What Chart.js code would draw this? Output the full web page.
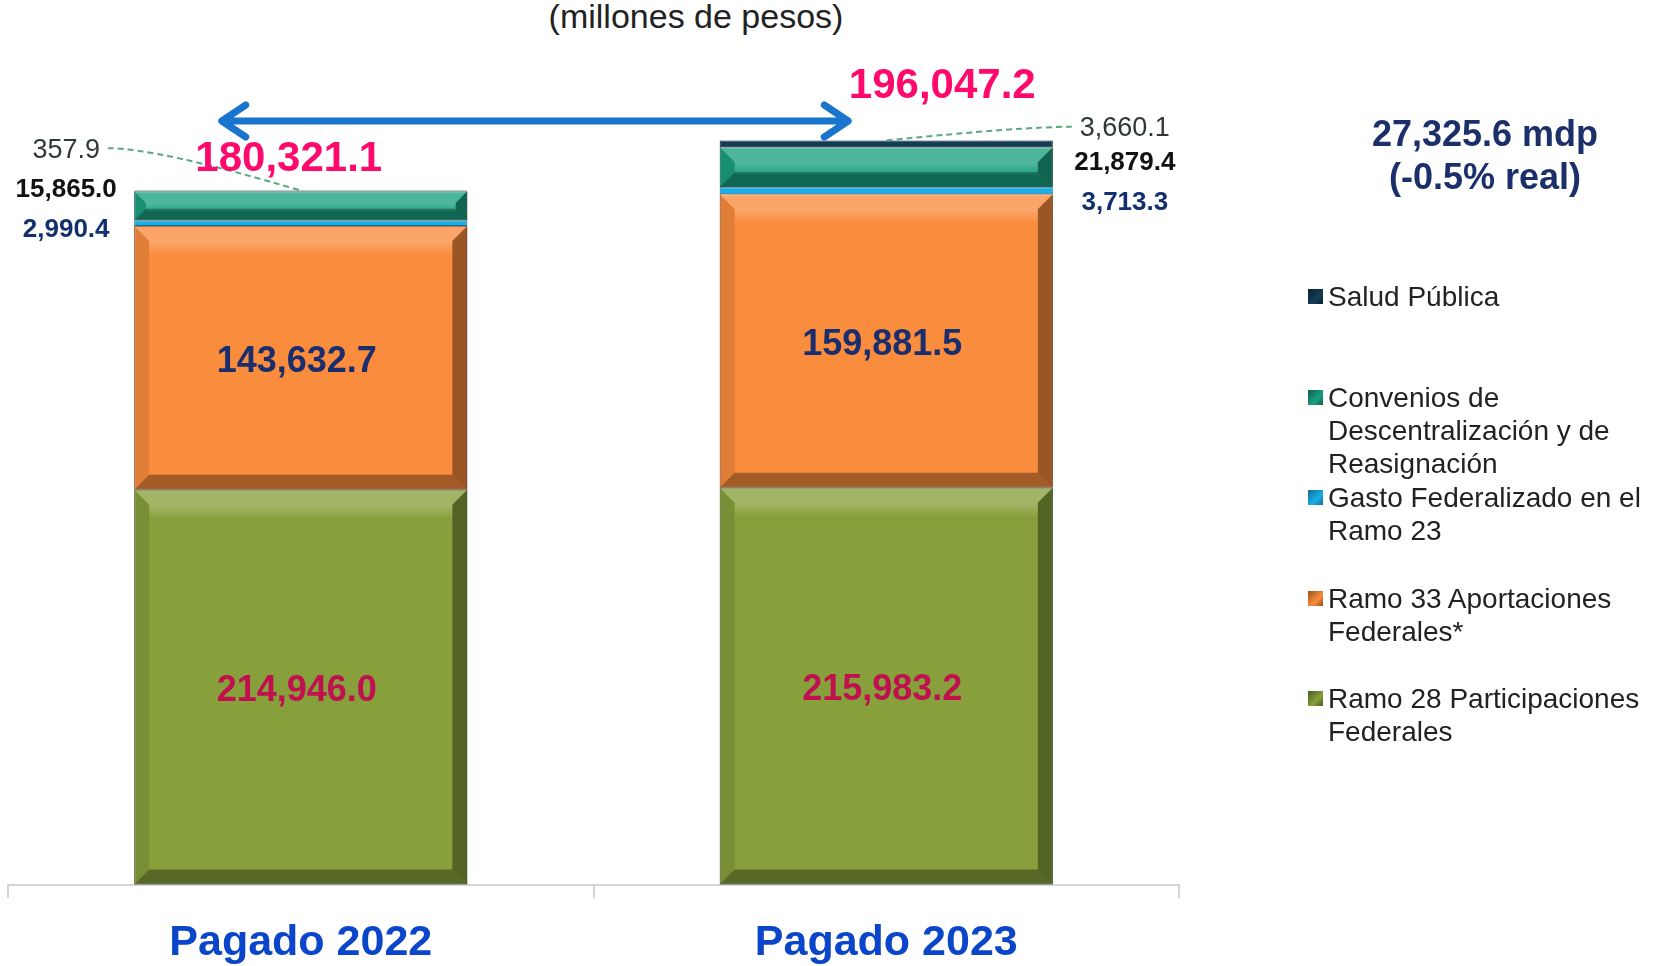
<!DOCTYPE html>
<html lang="es">
<head>
<meta charset="UTF-8">
<title>Gasto federalizado pagado</title>
<script src="https://cdn.jsdelivr.net/npm/chart.js"></script>
<style>
  body { margin: 0; width: 1662px; height: 966px; overflow: hidden; background: #fff;
         font-family: "Liberation Sans", Arial, sans-serif; position: relative; }
  #chart { position: absolute; left: 0; top: 0; }
  #title { position: absolute; left: 0; top: -3px; width: 1392px; text-align: center;
           font-size: 34px; color: #222; }
  #note { position: absolute; left: 1335px; top: 112px; width: 300px; text-align: center;
          font-size: 36px; font-weight: bold; color: #1b2f6b; line-height: 43px; }
  #legend { position: absolute; left: 1308px; top: 280px; }
  .item { position: relative; height: 100.5px; }
  .item .box { position: absolute; left: 0; top: 9px; width: 15px; height: 15px; }
  .item .txt { position: absolute; left: 20px; top: 0; width: 340px; font-size: 28px;
               line-height: 33px; color: #222; }
</style>
</head>
<body>
<div id="title">(millones de pesos)</div>
<canvas id="chart" width="1662" height="966"></canvas>
<div id="note">27,325.6 mdp<br>(-0.5% real)</div>
<div id="legend"></div>

<script>
// Data (stack order: bottom to top)
const categories = ['Pagado 2022', 'Pagado 2023'];
const seriesNames = [
  'Ramo 28 Participaciones Federales',
  'Ramo 33 Aportaciones Federales*',
  'Gasto Federalizado en el Ramo 23',
  'Convenios de Descentralización y de Reasignación',
  'Salud Pública'
];
const ramo28 = [214946.0, 215983.2];
const ramo33 = [143632.7, 159881.5];
const ramo23 = [2990.4, 3713.3];
const convenios = [15865.0, 21879.4];
const saludPublica = [357.9, 3660.1];
const seriesValues = [ramo28, ramo33, ramo23, convenios, saludPublica];
const totalLabels = ['180,321.1', '196,047.2'];

const seriesColors = ['#87a03b', '#fa8c3e', '#19aee6', '#1aa07e', '#133d55'];
const borderColors = ['#4b5a1e', '#9a4f18', '#0d6f96', '#0e5e49', '#0a2230'];

const fmt = v => v.toLocaleString('en-US', { minimumFractionDigits: 1, maximumFractionDigits: 1 });
const FONT = '"Liberation Sans", Arial, sans-serif';

// legend (top to bottom = reverse of stack order)
const legend = document.getElementById('legend');
for (let i = seriesNames.length - 1; i >= 0; i--) {
  const item = document.createElement('div');
  item.className = 'item';
  item.innerHTML = '<div class="box" style="background:linear-gradient(135deg,' + borderColors[i] +
    ' 0%,' + seriesColors[i] + ' 60%,' + borderColors[i] + ' 100%)"></div><div class="txt">' +
    seriesNames[i] + '</div>';
  legend.appendChild(item);
}

function poly(ctx, pts, fill) {
  ctx.beginPath();
  ctx.moveTo(pts[0][0], pts[0][1]);
  for (let i = 1; i < pts.length; i++) ctx.lineTo(pts[i][0], pts[i][1]);
  ctx.closePath();
  ctx.fillStyle = fill;
  ctx.fill();
}

// bevel look on each bar segment
const bevelPlugin = {
  id: 'bevel',
  afterDatasetDraw(chart, args) {
    const ctx = chart.ctx;
    ctx.save();
    args.meta.data.forEach(bar => {
      const l = bar.x - bar.width / 2, r = bar.x + bar.width / 2;
      const t = Math.min(bar.y, bar.base), b = Math.max(bar.y, bar.base);
      const h = b - t;
      if (h < 8) return;
      const d = Math.min(15, h / 2.5);
      poly(ctx, [[l, t], [r, t], [r - d, t + d], [l + d, t + d]], 'rgba(255,255,255,0.22)');
      poly(ctx, [[l, b], [r, b], [r - d, b - d], [l + d, b - d]], 'rgba(0,0,0,0.35)');
      poly(ctx, [[l, t], [l + d, t + d], [l + d, b - d], [l, b]], 'rgba(0,0,0,0.10)');
      poly(ctx, [[r, t], [r - d, t + d], [r - d, b - d], [r, b]], 'rgba(0,0,0,0.38)');
      // soft highlight band under top face
      const g = ctx.createLinearGradient(0, t + d, 0, t + d + Math.min(14, h / 3));
      g.addColorStop(0, 'rgba(255,255,255,0.25)');
      g.addColorStop(1, 'rgba(255,255,255,0)');
      ctx.fillStyle = g;
      ctx.fillRect(l + d, t + d, r - l - 2 * d, Math.min(14, h / 3));
    });
    ctx.restore();
  }
};

// value labels, totals, leader lines and arrow
const labelPlugin = {
  id: 'labels',
  afterDatasetsDraw(chart) {
    const ctx = chart.ctx;
    const metas = seriesValues.map((_, i) => chart.getDatasetMeta(i));
    ctx.save();
    ctx.textBaseline = 'middle';

    categories.forEach((cat, j) => {
      const side = j === 0 ? -1 : 1;
      // inner labels
      const innerColors = ['#c0104f', '#1a2e6e'];
      [0, 1].forEach(k => {
        const b = metas[k].data[j];
        ctx.font = 'bold 36px ' + FONT;
        ctx.fillStyle = innerColors[k];
        ctx.textAlign = 'center';
        ctx.fillText(fmt(seriesValues[k][j]), b.x - 4, (b.y + b.base) / 2 + 4);
      });

      // outside labels
      const g = metas[2].data[j];
      const lx = side < 0 ? g.x - g.width / 2 - 68 : g.x + g.width / 2 + 72;
      const gy = (g.y + g.base) / 2 + (j === 0 ? 7 : 12);
      ctx.textAlign = 'center';
      ctx.font = 'bold 26px ' + FONT;
      ctx.fillStyle = '#13306e';
      ctx.fillText(fmt(seriesValues[2][j]), lx, gy);
      ctx.fillStyle = '#111';
      ctx.fillText(fmt(seriesValues[3][j]), lx, gy - 40);
      ctx.font = '27px ' + FONT;
      ctx.fillStyle = '#2f3a38';
      const sText = fmt(seriesValues[4][j]);
      const sy = gy - 80 + (j === 0 ? 0 : 6);
      ctx.fillText(sText, lx, sy);

      // dashed leader to top of Salud segment
      const s = metas[4].data[j];
      const w = ctx.measureText(sText).width;
      const x0 = lx - side * (w / 2 + 8);
      ctx.strokeStyle = '#5aa882';
      ctx.lineWidth = 2;
      ctx.setLineDash([6, 4]);
      ctx.beginPath();
      ctx.moveTo(x0, sy - 2);
      ctx.quadraticCurveTo(x0 - side * 50, sy - 2, s.x, s.y);
      ctx.stroke();
      ctx.setLineDash([]);

      // totals
      const off = j === 0 ? [-12, -31] : [56, -54];
      ctx.font = 'bold 42px ' + FONT;
      ctx.fillStyle = '#ff0a6c';
      ctx.fillText(totalLabels[j], s.x + off[0], s.y + off[1]);
    });

    // double arrow between the two bars
    const b0 = metas[4].data[0], b1 = metas[4].data[1];
    const ax0 = b0.x - 79, ax1 = b1.x - 38, ay = 121;
    ctx.strokeStyle = '#1874cd';
    ctx.lineWidth = 7;
    ctx.lineCap = 'round';
    ctx.lineJoin = 'round';
    ctx.beginPath();
    ctx.moveTo(ax0 + 4, ay); ctx.lineTo(ax1 - 4, ay);
    ctx.moveTo(ax0 + 24, ay - 16); ctx.lineTo(ax0, ay); ctx.lineTo(ax0 + 24, ay + 16);
    ctx.moveTo(ax1 - 24, ay - 16); ctx.lineTo(ax1, ay); ctx.lineTo(ax1 - 24, ay + 16);
    ctx.stroke();
    ctx.restore();
  }
};

new Chart(document.getElementById('chart'), {
  type: 'bar',
  data: {
    labels: categories,
    datasets: seriesNames.map((name, i) => ({
      label: name,
      data: seriesValues[i],
      backgroundColor: seriesColors[i],
      borderColor: borderColors[i],
      borderWidth: 1,
      borderSkipped: false,
      categoryPercentage: 1,
      barPercentage: 0.569
    }))
  },
  options: {
    responsive: false,
    animation: false,
    devicePixelRatio: 1,
    layout: { padding: { left: 8, right: 483, top: 58, bottom: -22 } },
    plugins: { legend: { display: false }, tooltip: { enabled: false } },
    scales: {
      x: {
        stacked: true,
        offset: true,
        border: { display: true, color: '#d4d4d4', width: 2 },
        grid: { display: true, offset: true, drawOnChartArea: false, drawTicks: true,
                tickLength: 14, color: '#d4d4d4', lineWidth: 2 },
        ticks: { color: '#0b45c9', padding: 34,
                 font: { family: FONT, size: 43, weight: 'bold', lineHeight: 0.5 } }
      },
      y: { stacked: true, display: false, min: 0, max: 450000 }
    }
  },
  plugins: [bevelPlugin, labelPlugin]
});
</script>
</body>
</html>
